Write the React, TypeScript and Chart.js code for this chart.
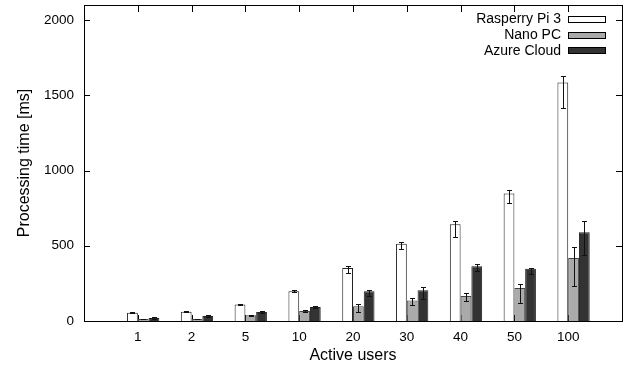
import React, { useEffect, useRef } from "react";
import { Chart, registerables } from "chart.js";

Chart.register(...registerables);

const categories = ["1", "2", "5", "10", "20", "30", "40", "50", "100"];
const seriesNames = ["Rasperry Pi 3", "Nano PC", "Azure Cloud"];
const piMean = [55, 62, 109, 197, 352, 514, 643, 847, 1585];
const piLow = [50, 57, 104, 190, 322, 481, 559, 781, 1417];
const piHigh = [58, 65, 112, 203, 364, 528, 663, 869, 1630];
const nanoMean = [13, 13, 38, 66, 98, 137, 166, 219, 419];
const nanoLow = [10, 10, 34, 60, 58, 104, 133, 122, 235];
const nanoHigh = [16, 16, 42, 70, 113, 153, 184, 246, 490];
const azureMean = [20, 33, 60, 93, 197, 204, 364, 348, 590];
const azureLow = [16, 29, 56, 88, 164, 146, 332, 313, 439];
const azureHigh = [24, 37, 64, 98, 204, 224, 379, 355, 665];
const yTicks = [0, 500, 1000, 1500, 2000];

const FONT = "'Liberation Sans', Arial, sans-serif";
const fills = ["#ffffff", "#aaaaaa", "#333333"];
const borders = ["#222222", "#444444", "#222222"];

export default function App() {
  const ref = useRef<HTMLCanvasElement | null>(null);

  useEffect(() => {
    if (!ref.current) return;
    const pad = (arr: number[]) => [null, ...arr, null];
    const labels = ["", ...categories, ""];
    const means = [piMean, nanoMean, azureMean];
    const lows = [piLow, nanoLow, azureLow];
    const highs = [piHigh, nanoHigh, azureHigh];

    const framePlugin = {
      id: "frame",
      beforeDatasetsDraw(chart: any) {
        const { ctx, chartArea: a, scales } = chart;
        ctx.save();
        ctx.strokeStyle = "#000";
        ctx.lineWidth = 1;
        ctx.beginPath();
        for (const v of yTicks) {
          const y = Math.round(scales.y.getPixelForValue(v)) + 0.5;
          ctx.moveTo(a.left, y);
          ctx.lineTo(a.left + 6, y);
          ctx.moveTo(a.right, y);
          ctx.lineTo(a.right - 6, y);
        }
        for (let i = 1; i <= categories.length; i++) {
          const x = Math.round(scales.x.getPixelForValue(i)) + 0.5;
          ctx.moveTo(x, a.top);
          ctx.lineTo(x, a.top + 7);
          ctx.moveTo(x, a.bottom);
          ctx.lineTo(x, a.bottom - 6);
        }
        ctx.stroke();
        ctx.restore();
      },
      afterDatasetsDraw(chart: any) {
        const { ctx, chartArea: a, scales } = chart;
        ctx.save();
        ctx.strokeStyle = "#111";
        ctx.lineWidth = 1;
        for (let d = 1; d <= 3; d++) {
          const meta = chart.getDatasetMeta(d);
          for (let j = 0; j < categories.length; j++) {
            const el = meta.data[j + 1];
            if (!el) continue;
            const x = Math.round(el.x) + 0.5;
            const yl = Math.round(scales.y.getPixelForValue(lows[d - 1][j])) + 0.5;
            const yh = Math.round(scales.y.getPixelForValue(highs[d - 1][j])) + 0.5;
            ctx.beginPath();
            ctx.moveTo(x, yl);
            ctx.lineTo(x, yh);
            ctx.moveTo(x - 2.5, yl);
            ctx.lineTo(x + 2.5, yl);
            ctx.moveTo(x - 2.5, yh);
            ctx.lineTo(x + 2.5, yh);
            ctx.stroke();
          }
        }
        ctx.strokeStyle = "#000";
        ctx.strokeRect(Math.round(a.left) + 0.5, Math.round(a.top) + 0.5, Math.round(a.right - a.left), Math.round(a.bottom - a.top));
        // legend
        ctx.font = `14px ${FONT}`;
        ctx.textAlign = "right";
        ctx.textBaseline = "middle";
        ctx.fillStyle = "#000";
        for (let i = 0; i < 3; i++) {
          const cy = a.top + 14.5 + i * 15.7;
          ctx.fillText(seriesNames[i], a.right - 61, cy);
          ctx.fillStyle = fills[i];
          ctx.fillRect(a.right - 54, Math.round(cy - 3.5), 38, 7);
          ctx.strokeStyle = "#000";
          ctx.strokeRect(a.right - 54 + 0.5, Math.round(cy - 3.5) + 0.5, 37, 6);
          ctx.fillStyle = "#000";
        }
        ctx.restore();
      },
    };

    const chart = new Chart(ref.current, {
      type: "bar",
      data: {
        labels,
        datasets: [
          { label: "", data: labels.map(() => null) as any, backgroundColor: "transparent" },
          ...means.map((m, i) => ({
            label: seriesNames[i],
            data: pad(m) as any,
            backgroundColor: fills[i],
            borderColor: borders[i],
            borderWidth: 1,
          })),
        ],
      },
      options: {
        animation: false,
        responsive: false,
        layout: { padding: { top: 5, right: 12, left: 0, bottom: 0 } },
        plugins: { legend: { display: false }, tooltip: { enabled: false } },
        datasets: { bar: { categoryPercentage: 0.8, barPercentage: 1 } },
        scales: {
          x: {
            type: "category",
            offset: false,
            grid: { display: false, drawTicks: false },
            border: { display: false },
            ticks: { color: "#000", font: { family: FONT, size: 13.5 }, padding: 8, autoSkip: false, maxRotation: 0 },
            title: { display: true, text: "Active users", color: "#000", font: { family: FONT, size: 16 }, padding: { top: 0, bottom: 9 } },
            afterFit: (s: any) => {
              s.height = 53;
              s.paddingLeft = 0;
              s.paddingRight = 0;
            },
          },
          y: {
            min: 0,
            max: 2100,
            grid: { display: false, drawTicks: false },
            border: { display: false },
            afterBuildTicks: (s: any) => {
              s.ticks = yTicks.map((v) => ({ value: v }));
            },
            ticks: {
              color: "#000",
              font: { family: FONT, size: 13.5 },
              padding: 10,
              callback: (v: any) => String(v),
            },
            title: { display: true, text: "Processing time [ms]", color: "#000", font: { family: FONT, size: 16 }, padding: { top: 14.5, bottom: 0 } },
            afterFit: (s: any) => {
              s.width = 84;
              s.paddingTop = 0;
              s.paddingBottom = 0;
            },
          },
        },
      },
      plugins: [framePlugin],
    });
    return () => chart.destroy();
  }, []);

  return (
    <canvas
      ref={ref}
      width={634}
      height={374}
      style={{ position: "absolute", left: 0, top: 0, display: "block", width: 634, height: 374 }}
    />
  );
}
